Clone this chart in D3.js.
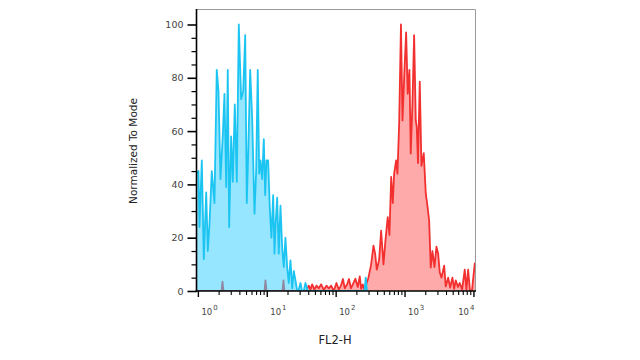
<!DOCTYPE html>
<html><head><meta charset="utf-8">
<script src="https://cdn.jsdelivr.net/npm/d3@7"></script>
<style>html,body{margin:0;padding:0;background:#fff;}svg{display:block;}</style>
</head><body>
<svg id="c" width="640" height="360"></svg>
<script>
// log10(FL2-H) positions and "Normalized To Mode" values
const blueLog = [-0.020,0.009,0.023,0.057,0.086,0.121,0.144,0.168,0.202,0.241,0.274,0.299,0.328,0.361,0.386,0.411,0.434,0.454,0.483,0.507,0.536,0.565,0.594,0.628,0.658,0.687,0.710,0.734,0.759,0.788,0.822,0.846,0.869,0.890,0.909,0.933,0.957,0.977,0.996,1.020,1.044,1.068,1.093,1.112,1.126,1.151,1.174,1.199,1.224,1.247,1.271,1.296,1.319,1.344,1.369,1.392,1.417,1.441,1.460,1.489,1.511,1.537,1.562,1.595,2.418,2.437,2.454];
const blueVal = [44,45,24,49,12,37,15,25,45,33,83,75,42,58,74,39,83,24,58,41,70,41,100,72,75,96,33,55,83,65,29,45,83,44,49,42,57,36,49,49,31,20,36,14,24,35,14,32,16,9,20,9,3,11.5,1,7.5,4,0,0,3,0,0,3,0,0,5,0];
const redLog = [-0.020,0.343,0.357,0.372,0.967,0.981,0.996,1.228,1.242,1.257,1.569,1.610,1.634,1.659,1.692,1.721,1.755,1.790,1.827,1.867,1.900,1.935,1.972,2.012,2.045,2.077,2.106,2.132,2.167,2.193,2.222,2.258,2.287,2.321,2.350,2.370,2.393,2.411,2.437,2.476,2.515,2.549,2.573,2.597,2.631,2.660,2.694,2.723,2.756,2.781,2.806,2.829,2.849,2.878,2.897,2.922,2.948,2.970,2.999,3.023,3.046,3.071,3.090,3.115,3.139,3.163,3.177,3.195,3.221,3.245,3.279,3.308,3.332,3.357,3.380,3.405,3.434,3.463,3.488,3.511,3.536,3.575,3.598,3.633,3.662,3.695,3.720,3.743,3.775,3.801,3.836,3.874,3.898,3.923,3.949,3.978,4.019,4.036];
const redVal = [0,0,3.5,0,0,4,0,0,4,0,0,2,0.5,2.5,0.5,2,1,2.5,0.5,2,1,2,0,3,0.5,2,4.5,1,2.5,4.5,1,3,4.6,1.5,5.5,0.8,2.5,0.8,2,5,10,17,14,8,11.7,22.6,10,19,27.7,21,42.8,33,44,49,44,63,100,64,83,97,74,83,51.6,70.6,96,64,61.6,48,78.6,47,51.7,36.6,32,26.4,8.8,15,9,16.6,14,7,5,9.5,1.7,5,1.3,5,0.8,4,1.5,3,0.5,8,0.5,8,0.3,0,10.4,10.4];
const yMajorTicks = [0,20,40,60,80,100];
const yMinorTicks = [5,10,15,25,30,35,45,50,55,65,70,75,85,90,95];
const xMajorTicks = [1,10,100,1000,10000];
const xTickExp = ["0","1","2","3","4"];
const xMinorTicks = [2,3,4,5,6,7,8,9,20,30,40,50,60,70,80,90,200,300,400,500,600,700,800,900,2000,3000,4000,5000,6000,7000,8000,9000];
const xTitle = "FL2-H";
const yTitle = "Normalized To Mode";

const L = 196.5, R = 475.5, T = 9, B = 291;
const svg = d3.select("#c");
const x = d3.scaleLog().domain([Math.pow(10,-0.02), Math.pow(10,4.03)]).range([L, R]);
const y = d3.scaleLinear().domain([0,100]).range([B, 24.5]);

svg.append("defs").append("clipPath").attr("id","clip")
  .append("rect").attr("x",L).attr("y",T).attr("width",R-L).attr("height",B-T);

const toPts = (ls, vs) => ls.map((l,i)=>({v:Math.pow(10,l), c:vs[i]}));
const area = d3.area().x(d=>x(d.v)).y0(y(0)).y1(d=>y(d.c));
const line = d3.line().x(d=>x(d.v)).y(d=>y(d.c));
const g = svg.append("g").attr("clip-path","url(#clip)");
const red = toPts(redLog, redVal), blue = toPts(blueLog, blueVal);
g.append("path").datum(red).attr("d",area).attr("fill","#ffaaaa");
g.append("path").datum(red).attr("d",line).attr("fill","none").attr("stroke","#f23030").attr("stroke-width",1.8).attr("stroke-linejoin","round");
g.append("path").datum(blue).attr("d",area).attr("fill","rgba(63,210,255,0.55)");
g.append("path").datum(blue).attr("d",line).attr("fill","none").attr("stroke","#1cc4f2").attr("stroke-width",1.8).attr("stroke-linejoin","round");

// frame (top/right)
svg.append("path").attr("d",`M${L},${T+0.5}H${R}V${B}`).attr("fill","none").attr("stroke","#9a9a9a").attr("stroke-width",1);

// y axis
const yAx = svg.append("g").attr("transform",`translate(${L},0)`)
  .call(d3.axisLeft(y).tickValues(yMajorTicks).tickSize(9).tickPadding(4).tickFormat(d3.format("d")));
yAx.select(".domain").remove();
yAx.selectAll("line").attr("stroke","#000").attr("stroke-width",1.6);
yAx.selectAll("text").attr("font-family","DejaVu Sans").attr("font-size",9.5).attr("fill","#444");
const yMin = svg.append("g").attr("transform",`translate(${L},0)`)
  .call(d3.axisLeft(y).tickValues(yMinorTicks).tickSize(5).tickFormat(""));
yMin.select(".domain").remove();
yMin.selectAll("line").attr("stroke","#000").attr("stroke-width",1.2);

// x axis
const xAx = svg.append("g").attr("transform",`translate(0,${B})`)
  .call(d3.axisBottom(x).tickValues(xMajorTicks).tickSize(6).tickFormat(""));
xAx.select(".domain").remove();
xAx.selectAll("line").attr("stroke","#000").attr("stroke-width",1.4);
const xMin = svg.append("g").attr("transform",`translate(0,${B})`)
  .call(d3.axisBottom(x).tickValues(xMinorTicks).tickSize(4).tickFormat(""));
xMin.select(".domain").remove();
xMin.selectAll("line").attr("stroke","#000").attr("stroke-width",1.1);

xMajorTicks.forEach((t,i)=>{
  const last = i === xMajorTicks.length-1;
  const tx = svg.append("text").attr("x", last ? x(t)+1 : x(t)+3.5).attr("y",315)
    .attr("text-anchor", last ? "end" : "start")
    .attr("font-family","DejaVu Sans").attr("font-size",8.5).attr("fill","#444");
  tx.append("tspan").text("10");
  tx.append("tspan").attr("dy",-5).attr("dx",1).attr("font-size",7).text(xTickExp[i]);
});

// axis lines
svg.append("line").attr("x1",L).attr("x2",L).attr("y1",T).attr("y2",B+0.8).attr("stroke","#000").attr("stroke-width",1.6);
svg.append("line").attr("x1",L-0.8).attr("x2",R+0.5).attr("y1",B).attr("y2",B).attr("stroke","#000").attr("stroke-width",1.6);

svg.append("text").attr("x",(L+R)/2-1).attr("y",344).attr("text-anchor","middle")
  .attr("font-family","DejaVu Sans").attr("font-size",11.5).attr("fill","#222").text(xTitle);
svg.append("text").attr("transform","translate(137,151) rotate(-90)").attr("text-anchor","middle")
  .attr("font-family","DejaVu Sans").attr("font-size",10.5).attr("fill","#222").text(yTitle);
</script>
</body></html>
